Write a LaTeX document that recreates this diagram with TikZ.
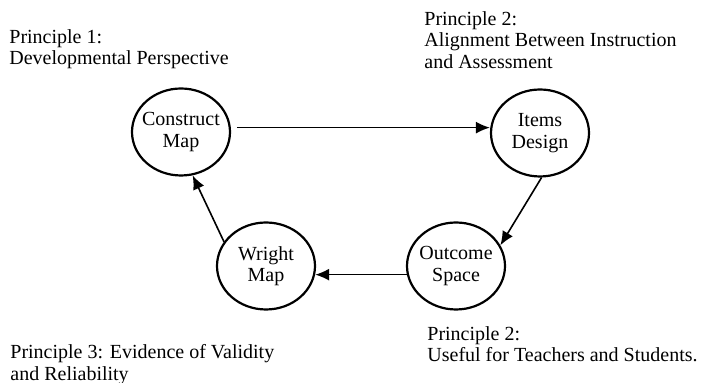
\documentclass[tikz,border=0pt]{standalone}
\usepackage{fontspec}
\setmainfont{Liberation Serif}
\usetikzlibrary{shapes.geometric, arrows.meta}

\begin{document}
\begin{tikzpicture}[x=0.5pt, y=-0.5pt, font=\fontsize{10}{10.8}\selectfont]
\tikzstyle{stage} = [ellipse, minimum width=49pt, minimum height=43.5pt, inner xsep=-6pt, inner ysep=0pt, align=center, draw=black, line width=1.1pt]
\tikzstyle{principle} = [anchor=north west, align=left, inner sep=0pt]
\tikzstyle{arrow} = [line width=0.8pt, ->, >={Latex[length=7pt,width=6pt]}]
\useasboundingbox (0,0) rectangle (711,383);
% Nodes
\node (construct) [stage] at (181,132) {Construct\\Map};
\node (items) [stage] at (540,133) {Items\\Design};
\node (outcome) [stage] at (456,266) {Outcome\\Space};
\node (wright) [stage] at (266,266) {Wright\\Map};

% Principles
\node (p1) [principle] at (9,29) {Principle 1:\\Developmental Perspective};
\node (p2) [principle] at (424,11) {Principle 2:\\Alignment Between Instruction\\and Assessment};
\node (p2b) [principle] at (427,326) {Principle 2:\\Useful for Teachers and Students.};
\node (p3) [principle] at (10,344) {Principle 3: Evidence of Validity\\and Reliability};

% Arrows
\draw [arrow, shorten <=3pt] (construct.5) -- (construct.5 -| items.west);
\draw [arrow] (items.-88) -- (outcome.25);
\draw [arrow] (outcome.190) -- (wright.-10);
\draw [arrow] (wright.150) -- (construct.-75);

\end{tikzpicture}
\end{document}
